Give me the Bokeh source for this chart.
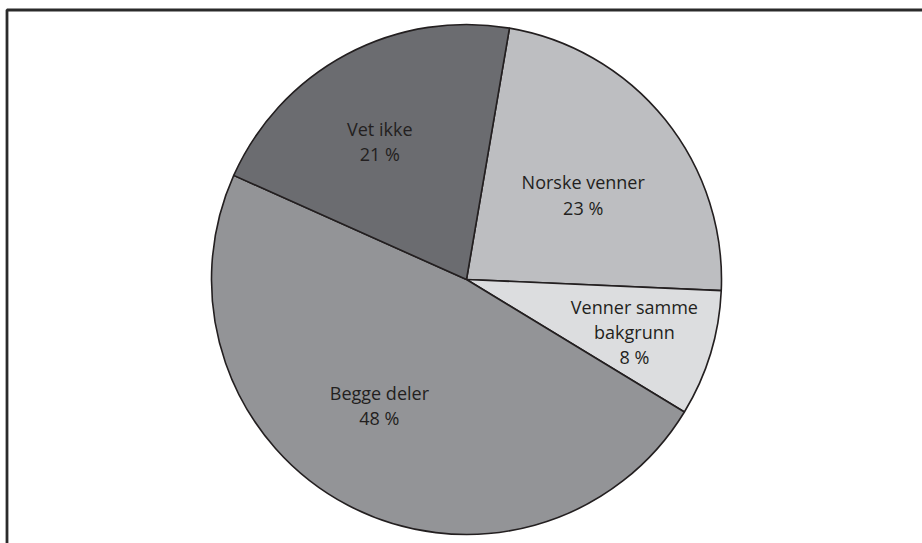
import math
from bokeh.plotting import figure
from bokeh.models import Range1d, ColumnDataSource
from bokeh.core.properties import value
from bokeh.embed import file_html
from bokeh.resources import INLINE

# data
categories = ["Norske venner", "Venner samme\nbakgrunn", "Begge deler", "Vet ikke"]
percent = [23, 8, 48, 21]
colors = ["#bdbec1", "#dcdddf", "#939497", "#6b6c70"]

# layout (pixel-based data space)
W, H = 922, 543
cx, cy, R = 466, 264, 255
start_offset = 9.7  # degrees clockwise from 12 o'clock
label_r = [0.565, 0.69, 0.60, 0.64]
label_nudge = [3.0, 0.5, 7.0, -4.0]

total = sum(percent)
starts, ends, lx, ly, labels = [], [], [], [], []
acc = start_offset
for i, v in enumerate(percent):
    a0 = acc
    a1 = acc + 360.0 * v / total
    acc = a1
    starts.append(math.radians(90 - a0))
    ends.append(math.radians(90 - a1))
    mid = (a0 + a1) / 2 + label_nudge[i]
    r = R * label_r[i]
    lx.append(cx + r * math.sin(math.radians(mid)))
    ly.append(cy + r * math.cos(math.radians(mid)))
    labels.append(f"{categories[i]}\n{v} %")

src = ColumnDataSource(dict(start=starts, end=ends, color=colors,
                            x=lx, y=ly, label=labels))

p = figure(width=W, height=H, output_backend="svg", toolbar_location=None,
           x_range=Range1d(0, W), y_range=Range1d(0, H), min_border=0)
p.axis.visible = False
p.grid.visible = False
p.outline_line_color = None
p.background_fill_color = "white"

p.wedge(x=cx, y=cy, radius=R, start_angle="start", end_angle="end",
        direction="clock", fill_color="color", line_color="#231f20",
        line_width=1.6, source=src)

p.text(x="x", y="y", text="label", source=src, text_align="center",
       text_baseline="middle", text_font=value("Open Sans"),
       text_font_size="18px", text_color="#231f20", text_line_height=1.05)

# frame (top and left edges, continuing past the window)
p.line(x=[6.5, 6.5, W + 10], y=[-10, H - 9.5, H - 9.5],
       line_color="#2b2b2b", line_width=2.8)

open("out.html", "w").write(file_html(p, INLINE))
